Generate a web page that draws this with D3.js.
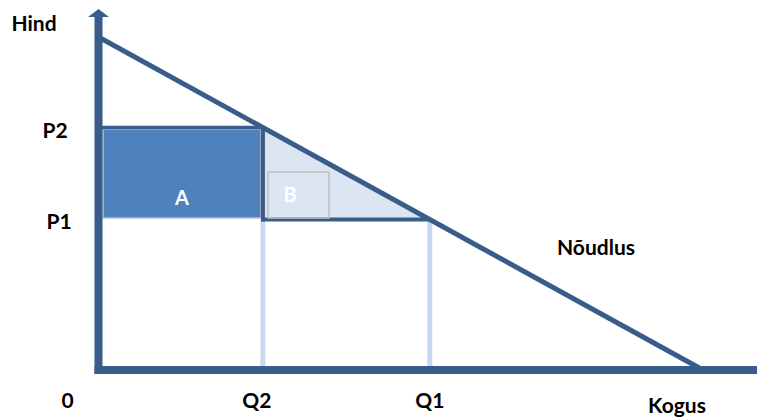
<!DOCTYPE html>
<html>
<head>
<meta charset="utf-8">
<script src="https://cdn.jsdelivr.net/npm/d3@7"></script>
<style>
  body { margin: 0; background: #fff; }
  svg { display: block; }
  text { font-family: Lato, "Liberation Sans", sans-serif; font-weight: bold; }
</style>
</head>
<body>
<svg id="chart" width="757" height="420"></svg>
<script>
// Demand curve P = 100 - Q (abstract units)
const demandQ = [0, 100];
const demandP = [100, 0];
const quantities = { Q2: 27.2, Q1: 54.8 };
const prices = { P2: 72.8, P1: 45.2 };
const yLabels = ["P2", "P1"];
const xLabels = ["0", "Q2", "Q1"];
const areaLabels = ["A", "B"];

const svg = d3.select("#chart");
const x = d3.scaleLinear().domain([0, 100]).range([98.5, 703]);
const y = d3.scaleLinear().domain([0, 100]).range([370, 37]);

const dark = "#385D8A";
const light = "#C6D9F1";

const xQ2 = x(quantities.Q2), xQ1 = x(quantities.Q1);
const yP2 = y(prices.P2), yP1 = y(prices.P1);

// Triangle B (consumer surplus loss)
svg.append("path")
  .attr("d", d3.line()([[xQ2, yP2], [xQ2, yP1], [xQ1, yP1]]) + "Z")
  .attr("fill", "#DCE6F2");

// Rectangle A
svg.append("rect")
  .attr("x", x(0) + 4.5).attr("y", yP2 + 1.5)
  .attr("width", xQ2 - 2 - (x(0) + 4.5))
  .attr("height", yP1 - 1.5 - (yP2 + 1.5))
  .attr("fill", "#4F81BD")
  .attr("stroke", "#BFBFBF").attr("stroke-width", 1.5);

// Light vertical guide lines at Q2, Q1
[quantities.Q2, quantities.Q1].forEach(q => {
  svg.append("line")
    .attr("x1", x(q)).attr("x2", x(q))
    .attr("y1", yP1 + 2).attr("y2", y(0) - 3)
    .attr("stroke", light).attr("stroke-width", 5);
});

// Dark P2 line, Q2 vertical, P1 line
svg.append("line").attr("x1", x(0)).attr("x2", xQ2)
  .attr("y1", yP2).attr("y2", yP2)
  .attr("stroke", dark).attr("stroke-width", 3.5);
svg.append("line").attr("x1", xQ2).attr("x2", xQ2)
  .attr("y1", yP2).attr("y2", yP1 + 2)
  .attr("stroke", dark).attr("stroke-width", 4);
svg.append("line").attr("x1", xQ2 - 2).attr("x2", xQ1)
  .attr("y1", yP1).attr("y2", yP1)
  .attr("stroke", dark).attr("stroke-width", 4);

// Demand line
svg.append("line")
  .attr("x1", x(demandQ[0])).attr("y1", y(demandP[0]))
  .attr("x2", x(demandQ[1])).attr("y2", y(demandP[1]))
  .attr("stroke", dark).attr("stroke-width", 5);

// Axes
svg.append("line").attr("x1", x(0)).attr("x2", x(0))
  .attr("y1", y(0) + 4).attr("y2", 16)
  .attr("stroke", dark).attr("stroke-width", 8);
svg.append("path")
  .attr("d", `M${x(0) - 10.5},17 L${x(0) + 10.5},17 L${x(0)},9 Z`)
  .attr("fill", dark);
svg.append("line").attr("x1", x(0) - 4).attr("x2", 770)
  .attr("y1", y(0)).attr("y2", y(0))
  .attr("stroke", dark).attr("stroke-width", 8);

// Box B
svg.append("rect")
  .attr("x", 268).attr("y", 172).attr("width", 61).attr("height", 46)
  .attr("fill", "none").attr("stroke", "#BFBFBF").attr("stroke-width", 1.5);

// Area labels
svg.append("text").attr("x", 182).attr("y", 205)
  .attr("text-anchor", "middle").attr("font-size", 20).attr("fill", "#fff").text(areaLabels[0]);
svg.append("text").attr("x", 290).attr("y", 202)
  .attr("text-anchor", "middle").attr("font-size", 20).attr("fill", "#fff").text(areaLabels[1]);

// Axis labels
const fs = 21;
const lab = (t, cx, by) => svg.append("text").attr("x", cx).attr("y", by)
  .attr("text-anchor", "middle").attr("font-size", fs).attr("fill", "#000").text(t);
lab("Hind", 34, 31);
lab(yLabels[0], 55, 138);
lab(yLabels[1], 59, 229);
lab(xLabels[0], 67.5, 408);
lab(xLabels[1], xQ2 - 6, 408);
lab(xLabels[2], xQ1, 408);
lab("Kogus", 677, 413);
lab("Nõudlus", 596, 255);
</script>
</body>
</html>
